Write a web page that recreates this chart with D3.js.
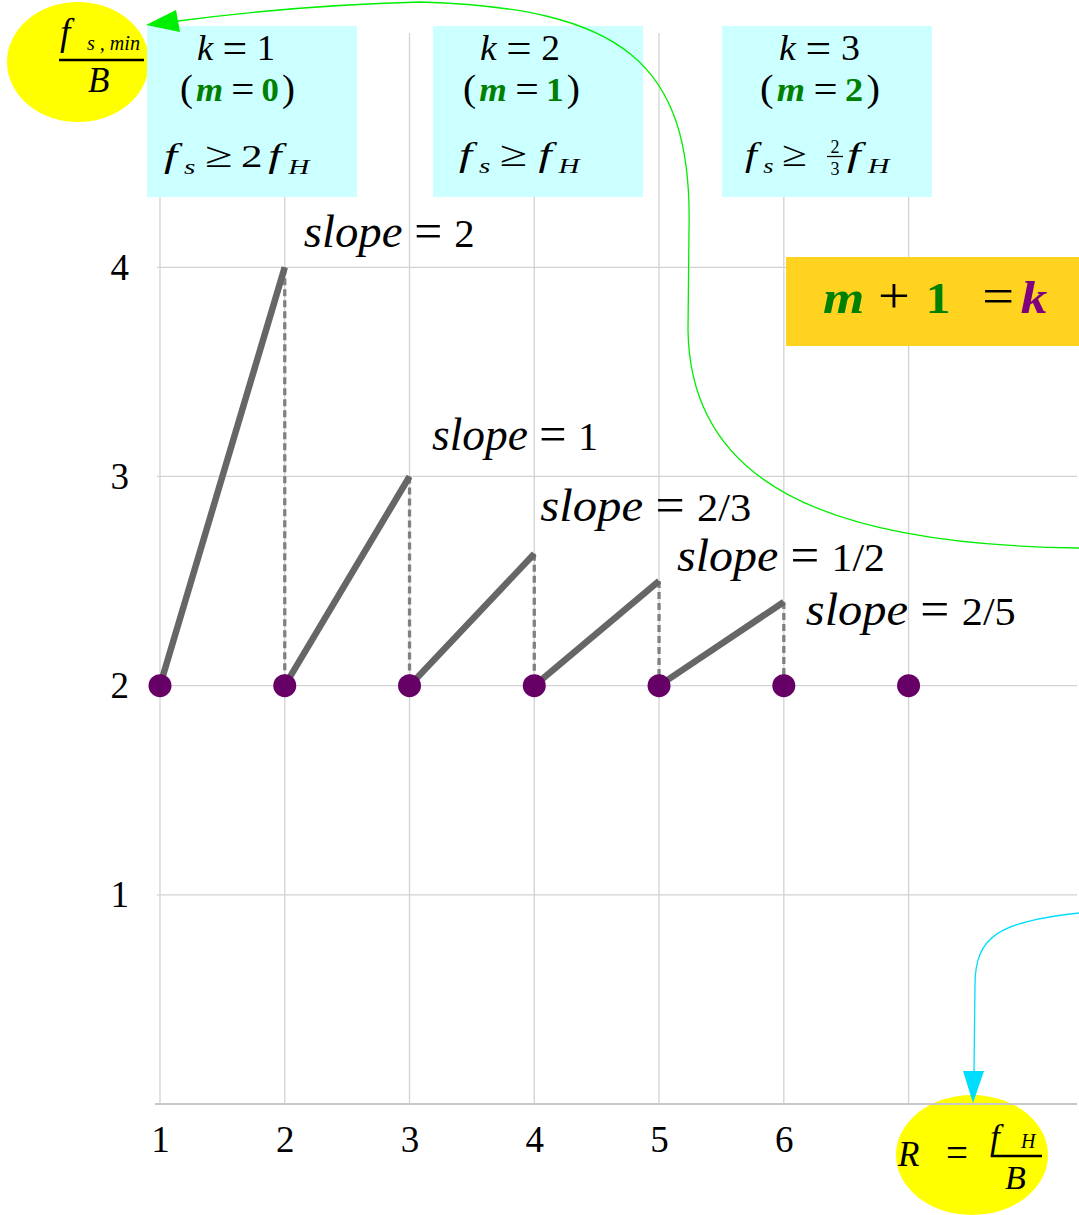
<!DOCTYPE html>
<html>
<head>
<meta charset="utf-8">
<script src="https://cdn.jsdelivr.net/npm/d3@7"></script>
<style>
  html, body { margin: 0; padding: 0; background: #ffffff; }
  svg { display: block; }
</style>
</head>
<body>
<svg id="chart" width="1079" height="1215"></svg>
<script>
// ---------------- data ----------------
const rValues      = [1, 2, 3, 4, 5, 6, 7];          // R = fH / B positions of the dots
const baseValues   = [2, 2, 2, 2, 2, 2, 2];          // fs,min/B at the dots
const segStartR    = [1, 2, 3, 4, 5];
const segEndR      = [2, 3, 4, 5, 6];
const segStartY    = [2, 2, 2, 2, 2];
const segEndY      = [4, 3, 2.63, 2.5, 2.4];
const slopeLabels  = ["2", "1", "2/3", "1/2", "2/5"];
const xTickValues  = [1, 2, 3, 4, 5, 6];
const yTickValues  = [1, 2, 3, 4];
const xGridValues  = [1, 2, 3, 4, 5, 6, 7];
const kValues      = ["1", "2", "3"];
const mValues      = ["0", "1", "2"];

// ---------------- layout ----------------
const FONT = "Liberation Serif";
const GREEN = "#008000", PURPLE = "#800080";
const svg = d3.select("#chart");

const x = d3.scaleLinear().domain([1, 8.35]).range([160, 1077]);
const y = d3.scaleLinear().domain([0, 5.12]).range([1104, 33]);

// grid
const grid = svg.append("g");
grid.selectAll("line.v").data(xGridValues).join("line")
  .attr("x1", d => x(d)).attr("x2", d => x(d))
  .attr("y1", y(0)).attr("y2", y(5.12))
  .attr("stroke", "#d2d2d2").attr("stroke-width", 1.3);
grid.selectAll("line.h").data(yTickValues).join("line")
  .attr("x1", x(1) - 3).attr("x2", x(8.35))
  .attr("y1", d => y(d)).attr("y2", d => y(d))
  .attr("stroke", "#d2d2d2").attr("stroke-width", 1.3);

// helper for math-like text
function mathText(parent, px, py, parts, size, targetW) {
  const t = parent.append("text")
    .attr("font-family", FONT).attr("font-size", size).attr("fill", "#000");
  parts.forEach(p => {
    const s = t.append("tspan").text(p.t);
    if (p.i) s.attr("font-style", "italic");
    if (p.b) s.attr("font-weight", "bold");
    if (p.c) s.attr("fill", p.c);
    if (p.s) s.attr("font-size", p.s);
    if (p.dx) s.attr("dx", p.dx);
    if (p.dy) s.attr("dy", p.dy);
  });
  let sx = 1;
  const w = t.node().getBBox().width;
  if (targetW && w > 0) sx = targetW / w;
  t.attr("transform", `translate(${px},${py}) scale(${sx},1)`);
  return t;
}

// condition boxes
const boxLeft = [147, 433, 722];

// top-left ellipse (under box 1)
svg.append("ellipse").attr("cx", 78).attr("cy", 62).attr("rx", 71).attr("ry", 60).attr("fill", "#ffff00");
svg.append("g").selectAll("rect").data(boxLeft).join("rect")
  .attr("x", d => d).attr("y", 26).attr("width", 210).attr("height", 171)
  .attr("fill", "#ccffff");

// gold box m + 1 = k
svg.append("rect").attr("x", 786).attr("y", 257).attr("width", 300).attr("height", 89).attr("fill", "#ffd320");

// bottom ellipse
svg.append("ellipse").attr("cx", 972).attr("cy", 1155).attr("rx", 76).attr("ry", 60).attr("fill", "#ffff00");

// bottom axis line
svg.append("line").attr("x1", x(1) - 5).attr("x2", x(8.35)).attr("y1", y(0)).attr("y2", y(0))
  .attr("stroke", "#c8c8c8").attr("stroke-width", 2);

// axes labels
const xAxis = svg.append("g").attr("transform", `translate(0,${y(0)})`)
  .call(d3.axisBottom(x).tickValues(xTickValues).tickSize(0).tickPadding(22).tickFormat(d3.format("d")));
xAxis.select(".domain").remove();
xAxis.selectAll("text").attr("font-family", FONT).attr("font-size", 37).attr("fill", "#000");

const yAxis = svg.append("g").attr("transform", `translate(${x(1)},0)`)
  .call(d3.axisLeft(y).tickValues(yTickValues).tickSize(0).tickPadding(31).tickFormat(d3.format("d")));
yAxis.select(".domain").remove();
yAxis.selectAll("text").attr("font-family", FONT).attr("font-size", 37).attr("fill", "#000");

// dashed verticals
const segIdx = d3.range(segEndR.length);
svg.append("g").selectAll("line").data(segIdx).join("line")
  .attr("x1", i => x(segEndR[i])).attr("x2", i => x(segEndR[i]))
  .attr("y1", i => y(segEndY[i])).attr("y2", i => y(baseValues[0]))
  .attr("stroke", "#808080").attr("stroke-width", 3.3).attr("stroke-dasharray", "7,4");

// solid slope segments
svg.append("g").selectAll("line").data(segIdx).join("line")
  .attr("x1", i => x(segStartR[i])).attr("y1", i => y(segStartY[i]))
  .attr("x2", i => x(segEndR[i])).attr("y2", i => y(segEndY[i]))
  .attr("stroke", "#666666").attr("stroke-width", 6.5);

// dots
svg.append("g").selectAll("circle").data(rValues).join("circle")
  .attr("cx", d => x(d)).attr("cy", (d, i) => y(baseValues[i])).attr("r", 11.5)
  .attr("fill", "#660066");

// slope labels (offset from segment tops)
const labelDx = [19, 22.5, 6, 18, 22];
const labelDy = [-20, -26.5, -33, -10, 23];
const labelW  = [171, 166, 211, 208, 210];
slopeLabels.forEach((lab, i) => {
  mathText(svg, x(segEndR[i]) + labelDx[i], y(segEndY[i]) + labelDy[i],
    [{t: "slope", i: 1, s: 47}, {t: "=", s: 50, dx: 12, dy: 1}, {t: lab, dx: 12, dy: -1}], 41, labelW[i]);
});

// box texts
const boxTextLeft1 = [197, 480, 779];
const boxTextW1    = [78, 80, 81];
const boxTextLeft2 = [180, 463, 760];
const boxTextW2    = [115, 117, 120];
kValues.forEach((k, i) => {
  mathText(svg, boxTextLeft1[i], 60, [{t: "k", i: 1}, {t: "=", s: 42, dx: 9, dy: 2}, {t: k, dx: 9, dy: -2}], 35, boxTextW1[i]);
  mathText(svg, boxTextLeft2[i], 101, [
    {t: "(", s: 38}, {t: "m", i: 1, b: 1, c: GREEN, dx: 3}, {t: "=", s: 40, dx: 8, dy: 2},
    {t: mValues[i], b: 1, c: GREEN, dx: 7, dy: -2}, {t: ")", s: 38, dx: 3}], 34, boxTextW2[i]);
});
// line 3 of each box
mathText(svg, 164, 167, [
  {t: "f", i: 1, s: 34}, {t: "s", i: 1, s: 21, dy: 7, dx: 5}, {t: "≥", s: 36, dy: -7, dx: 7},
  {t: "2", dx: 6}, {t: "f", i: 1, s: 34, dx: 4}, {t: "H", i: 1, s: 21, dy: 7, dx: 5}], 31, 148);
mathText(svg, 459, 166, [
  {t: "f", i: 1, s: 34}, {t: "s", i: 1, s: 21, dy: 7, dx: 5}, {t: "≥", s: 36, dy: -7, dx: 7},
  {t: "f", i: 1, s: 34, dx: 8}, {t: "H", i: 1, s: 21, dy: 7, dx: 5}], 31, 123);
mathText(svg, 745, 166, [
  {t: "f", i: 1, s: 34}, {t: "s", i: 1, s: 21, dy: 7, dx: 5}, {t: "≥", s: 36, dy: -7, dx: 7}], 31, 62);
svg.append("text").attr("x", 835).attr("y", 153).attr("text-anchor", "middle")
  .attr("font-family", FONT).attr("font-size", 18).text("2");
svg.append("line").attr("x1", 827).attr("x2", 843).attr("y1", 156.5).attr("y2", 156.5)
  .attr("stroke", "#000").attr("stroke-width", 1.3);
svg.append("text").attr("x", 835).attr("y", 175).attr("text-anchor", "middle")
  .attr("font-family", FONT).attr("font-size", 18).text("3");
mathText(svg, 847, 166, [
  {t: "f", i: 1, s: 34}, {t: "H", i: 1, s: 21, dy: 7, dx: 5}], 31, 45);

// top-left ellipse fraction
mathText(svg, 60, 45, [{t: "f", i: 1}], 37);
mathText(svg, 87, 50, [{t: "s , min", i: 1}], 21, 53);
svg.append("line").attr("x1", 59).attr("x2", 144).attr("y1", 60).attr("y2", 60)
  .attr("stroke", "#000").attr("stroke-width", 2.6);
mathText(svg, 88, 92, [{t: "B", i: 1}], 35);

// bottom ellipse
mathText(svg, 898, 1166, [{t: "R", i: 1}], 35);
mathText(svg, 946, 1166, [{t: "=", s: 42}], 35, 22);
mathText(svg, 990, 1149, [{t: "f", i: 1}], 35);
mathText(svg, 1021, 1148, [{t: "H", i: 1}], 20);
svg.append("line").attr("x1", 991).attr("x2", 1042).attr("y1", 1156).attr("y2", 1156)
  .attr("stroke", "#000").attr("stroke-width", 2.6);
mathText(svg, 1005, 1189, [{t: "B", i: 1}], 34);

// m + 1 = k
mathText(svg, 823, 313, [
  {t: "m", i: 1, b: 1, c: GREEN, s: 47}, {t: "+", s: 50, dx: 12}, {t: "1", b: 1, c: GREEN, dx: 14},
  {t: "=", s: 50, dx: 28}, {t: "k", i: 1, b: 1, c: PURPLE, s: 47, dx: 6}], 44, 225);

// green arrow
svg.append("path")
  .attr("d", "M1079,548 C820,545 690,480 688,330 L689,230 C693,60 620,8 420,2 Q300,5 178,21")
  .attr("fill", "none").attr("stroke", "#00ee00").attr("stroke-width", 1.3);
svg.append("path").attr("d", "M146,25 L176,10 L180,32 Z").attr("fill", "#00ee00");

// cyan arrow
svg.append("path")
  .attr("d", "M1079,913 C1000,922 975,935 975,985 L974,1071")
  .attr("fill", "none").attr("stroke", "#00ddff").attr("stroke-width", 1.3);
svg.append("path").attr("d", "M963,1071 L984,1071 L973,1103 Z").attr("fill", "#00ddff");
</script>
</body>
</html>
